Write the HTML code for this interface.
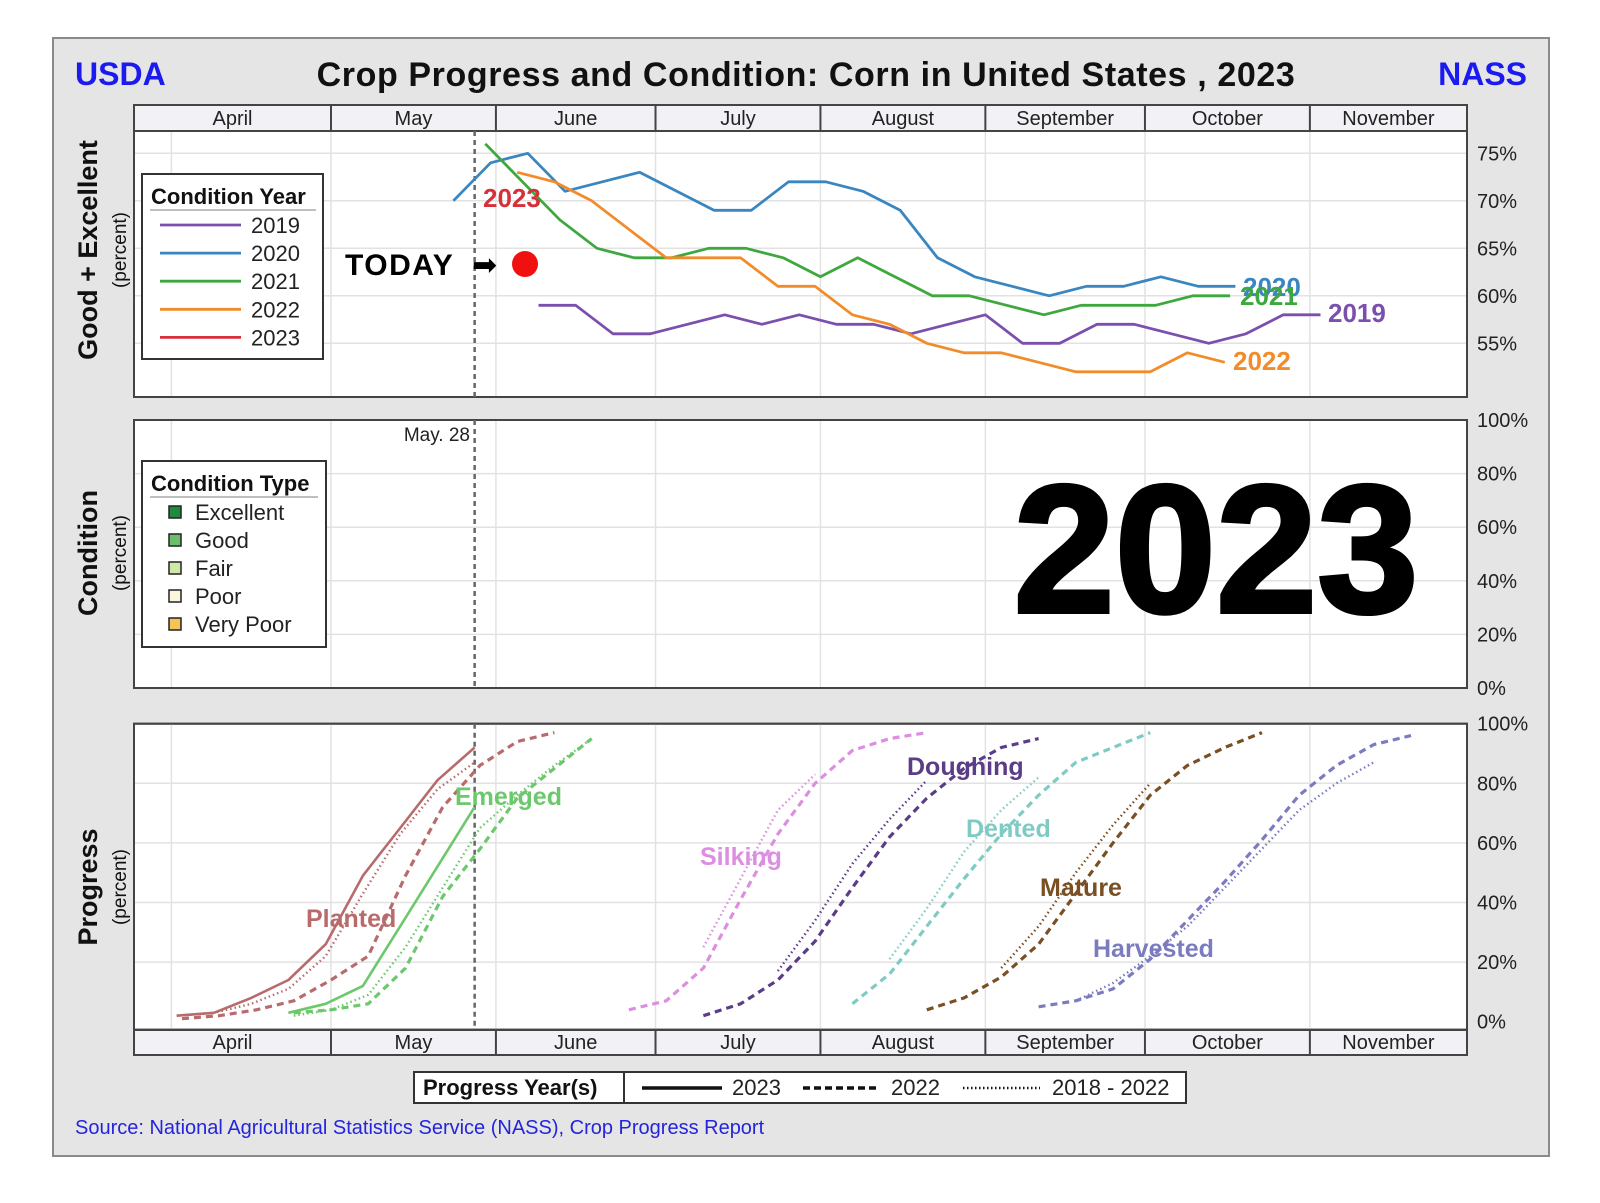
<!DOCTYPE html>
<html><head><meta charset="utf-8"><style>
html,body{margin:0;padding:0;background:#fff;}
svg{display:block;font-family:"Liberation Sans",sans-serif;}
</style></head><body>
<svg id="chart" width="1600" height="1203" viewBox="0 0 1600 1203">
<rect x="53" y="38" width="1496" height="1118" fill="#e5e5e5" stroke="#8a8a8a" stroke-width="2"/>
<text x="75" y="85" font-size="32" font-weight="bold" fill="#1b1bf0">USDA</text>
<text x="1527" y="85" font-size="32" font-weight="bold" fill="#1b1bf0" text-anchor="end">NASS</text>
<text x="806" y="86" font-size="34" font-weight="bold" fill="#111" text-anchor="middle" letter-spacing="0.6">Crop Progress and Condition: Corn in United States , 2023</text>
<g id="layer"></g>
</svg>
<script>
// ---------- data ----------
const condYears = ["2019","2020","2021","2022"];
const condStart = [39, 23, 29, 35];
const cond2019 = [59,59,56,56,57,58,57,58,57,57,56,57,58,55,55,57,57,56,55,56,58,58];
const cond2020 = [70,74,75,71,72,73,71,69,69,72,72,71,69,64,62,61,60,61,61,62,61,61];
const cond2021 = [76,72,68,65,64,64,65,65,64,62,64,62,60,60,59,58,59,59,59,60,60];
const cond2022 = [73,72,70,67,64,64,64,61,61,58,57,55,54,54,53,52,52,52,54,53];
const condTicks = [75,70,65,60,55];
const pctTicks = [100,80,60,40,20,0];
const months = ["April","May","June","July","August","September","October","November"];
const monthStartDay = [-30,0,31,61,92,123,153,184];
const planted2023 = [2,3,8,14,26,49,65,81,92];
const planted2022 = [1,2,4,7,14,22,49,72,86,94,97];
const plantedAvg  = [2,3,6,11,22,43,63,78,87];
const emerged2023 = [3,6,12,32,52,72];
const emerged2022 = [3,4,6,18,42,58,75,85,95];
const emergedAvg  = [2,4,9,25,45,65,76,86,95];
const silking2022 = [4,7,18,41,63,80,91,95,97];
const silkingAvg  = [25,48,71,83];
const dough2022   = [2,6,14,27,45,62,75,85,92,95];
const doughAvg    = [17,34,53,68,81];
const dent2022    = [6,16,32,48,63,76,87,92,97];
const dentAvg     = [21,38,57,71,82];
const mature2022  = [4,8,15,26,43,60,76,86,92,97];
const matureAvg   = [18,32,50,66,80];
const harv2022    = [5,7,11,21,34,47,61,76,86,93,96];
const harvAvg     = [7,13,22,32,45,58,71,80,87];

// ---------- scales ----------
const X0=134, X1=1467;
const xDay = d => 331 + d*5.32;
const yCond = v => 153.3 + (75 - v)*9.5;
const P2 = {top:420, bot:688};
const yCondType = v => P2.bot - v*(P2.bot-P2.top)/100;
const P3 = {top:723.7, bot:1021.7};
const yProg = v => P3.bot - v*(P3.bot-P3.top)/100;

const NS="http://www.w3.org/2000/svg";
const layer=document.getElementById('layer');
function mk(tag, attrs, parent){
  const e=document.createElementNS(NS,tag);
  for(const k in attrs) e.setAttribute(k, attrs[k]);
  (parent||layer).appendChild(e); return e;
}
function txt(x,y,s,attrs,parent){ const t=mk('text',Object.assign({x:x,y:y},attrs),parent); t.textContent=s; return t; }

function panel(top,bot,name){
  const r=mk('rect',{x:X0,y:top,width:X1-X0,height:bot-top,fill:'#fff',stroke:'#444','stroke-width':2});
  
  
  monthStartDay.forEach((d,i)=>{ if(i===0) return;
    const l=mk('line',{x1:xDay(d),x2:xDay(d),y1:top,y2:bot,stroke:'#e2e2e2','stroke-width':1.5});
    
    
  });
  const a=mk('line',{x1:xDay(-30),x2:xDay(-30),y1:top,y2:bot,stroke:'#e2e2e2','stroke-width':1.5});
  
  
}
function monthBar(top,bot,name){
  const g=mk('g',{});
  
  
  mk('rect',{x:X0,y:top,width:X1-X0,height:bot-top,fill:'#f1f1f6',stroke:'#444','stroke-width':2},g);
  months.forEach((m,i)=>{
    const a=i===0?X0:xDay(monthStartDay[i]);
    const b=i===months.length-1?X1:xDay(monthStartDay[i+1]);
    if(i>0) mk('line',{x1:a,x2:a,y1:top,y2:bot,stroke:'#444','stroke-width':2},g);
    const t=txt((a+b)/2,bot-6,m,{'font-size':20,'text-anchor':'middle',fill:'#222'},g);
    
    
  });
}
monthBar(105,131,'top-month-header');
panel(131,397,'good-excellent-panel');
panel(P2.top,P2.bot,'condition-panel');
panel(P3.top,P3.bot+8,'progress-panel');
monthBar(1030,1055,'bottom-month-header');

condTicks.forEach(v=>{
  const l=mk('line',{x1:X0,x2:X1,y1:yCond(v),y2:yCond(v),stroke:'#e2e2e2','stroke-width':1.5});
  
  
  const t=txt(1477,yCond(v)+7,v+'%',{'font-size':20,fill:'#222'});
  
  
});
pctTicks.forEach(v=>{
  if(v>0&&v<100){
    const l=mk('line',{x1:X0,x2:X1,y1:yCondType(v),y2:yCondType(v),stroke:'#e2e2e2','stroke-width':1.5});
    
    
    const l2=mk('line',{x1:X0,x2:X1,y1:yProg(v),y2:yProg(v),stroke:'#e2e2e2','stroke-width':1.5});
    
    
  }
  const t=txt(1477,yCondType(v)+7,v+'%',{'font-size':20,fill:'#222'});
  
  
  const t2=txt(1477,yProg(v)+7,v+'%',{'font-size':20,fill:'#222'});
  
  
});
[[131,397],[P2.top,P2.bot],[P3.top,P3.bot+8]].forEach(p=>{
  mk('rect',{x:X0,y:p[0],width:X1-X0,height:p[1]-p[0],fill:'none',stroke:'#444','stroke-width':2});
});
[[131,397],[P2.top,P2.bot],[P3.top,P3.bot+8]].forEach(p=>{
  const l=mk('line',{x1:xDay(27),x2:xDay(27),y1:p[0],y2:p[1],stroke:'#666','stroke-width':2.5,'stroke-dasharray':'5 4'});
  
  
});

const condColors=['#7b4fae','#3a86c0','#3ea83e','#f28c2a'];
const condData=[cond2019,cond2020,cond2021,cond2022];
condData.forEach((vals,i)=>{
  const pts=vals.map((v,k)=>xDay(condStart[i]+7*k).toFixed(1)+','+yCond(v).toFixed(1)).join(' ');
  const pl=mk('polyline',{points:pts,fill:'none',stroke:condColors[i],'stroke-width':2.8,'stroke-linejoin':'round'});
  
  
});
function lab(x,y,s,c,size,name){ const t=txt(x,y,s,{'font-size':size,'font-weight':'bold',fill:c});   return t;}
lab(1243,296,'2020','#3a86c0',26,'label-2020');
lab(1240,305,'2021','#3ea83e',26,'label-2021');
lab(1328,322,'2019','#7b4fae',26,'label-2019');
lab(1233,370,'2022','#f28c2a',26,'label-2022');
lab(483,207,'2023','#d6303a',26,'label-2023');
const tl=lab(345,275,'TODAY','#000',30,'today-label');
tl.setAttribute('letter-spacing','1.5');
const arr=txt(472,275,'➡',{'font-size':30,fill:'#000'});


const dot=mk('circle',{cx:525,cy:264,r:13,fill:'#f01010'});



const lg=mk('g',{});


mk('rect',{x:142,y:174,width:181,height:185,fill:'#fff',stroke:'#333','stroke-width':2},lg);
txt(151,204,'Condition Year',{'font-size':22,'font-weight':'bold',fill:'#111'},lg);
mk('line',{x1:150,x2:316,y1:210,y2:210,stroke:'#aaa','stroke-width':1.5},lg);
const legYears=['2019','2020','2021','2022','2023'];
const legCols=['#7b4fae','#3a86c0','#3ea83e','#f28c2a','#d6303a'];
legYears.forEach((y,i)=>{
  const yy=225+i*28.1;
  const l=mk('line',{x1:160,x2:241,y1:yy,y2:yy,stroke:legCols[i],'stroke-width':2.8},lg);
  
  
  const t=txt(251,yy+8,y,{'font-size':22,fill:'#222'},lg);
  
  
});

const md=txt(470,441,'May. 28',{'font-size':19,fill:'#222','text-anchor':'end'});


const ct=mk('g',{});


mk('rect',{x:142,y:461,width:184,height:186,fill:'#fff',stroke:'#333','stroke-width':2},ct);
txt(151,491,'Condition Type',{'font-size':22,'font-weight':'bold',fill:'#111'},ct);
mk('line',{x1:150,x2:318,y1:497,y2:497,stroke:'#aaa','stroke-width':1.5},ct);
const types=['Excellent','Good','Fair','Poor','Very Poor'];
const typeCols=['#1f8a3c','#6cbf6a','#cfe8a8','#fbf7df','#f6c35a'];
types.forEach((s,i)=>{
  const yy=512+i*28;
  const r=mk('rect',{x:169,y:yy-6,width:12,height:12,fill:typeCols[i],stroke:'#222','stroke-width':1.5},ct);
  
  
  const t=txt(195,yy+8,s,{'font-size':22,fill:'#222'},ct);
  
  
});
const big=txt(1216,612,'2023',{'font-size':182,'font-weight':'900',fill:'#000','text-anchor':'middle','stroke':'#000','stroke-width':4});



function curve(start,vals,color,style,name){
  const pts=vals.map((v,k)=>xDay(start+7*k).toFixed(1)+','+yProg(v).toFixed(1)).join(' ');
  const a={points:pts,fill:'none',stroke:color,'stroke-linejoin':'round'};
  if(style==='solid'){a['stroke-width']=2.6;}
  else if(style==='dash'){a['stroke-width']=3.2;a['stroke-dasharray']='7 5';}
  else {a['stroke-width']=2.4;a['stroke-dasharray']='1.5 3';}
  const pl=mk('polyline',a);
  
  
}
const cPl='#b86b6d', cEm='#6cc86c', cSi='#dc8ee0', cDo='#5b3c86', cDe='#7fcbc4', cMa='#7a4f24', cHa='#7b7bbf';
curve(-29,plantedAvg,cPl,'dot','planted-avg');
curve(-28,planted2022,cPl,'dash','planted-2022');
curve(-29,planted2023,cPl,'solid','planted-2023');
curve(-7,emergedAvg,cEm,'dot','emerged-avg');
curve(-7,emerged2022,cEm,'dash','emerged-2022');
curve(-8,emerged2023,cEm,'solid','emerged-2023');
curve(70,silkingAvg,cSi,'dot','silking-avg');
curve(56,silking2022,cSi,'dash','silking-2022');
curve(84,doughAvg,cDo,'dot','doughing-avg');
curve(70,dough2022,cDo,'dash','doughing-2022');
curve(105,dentAvg,cDe,'dot','dented-avg');
curve(98,dent2022,cDe,'dash','dented-2022');
curve(126,matureAvg,cMa,'dot','mature-avg');
curve(112,mature2022,cMa,'dash','mature-2022');
curve(140,harvAvg,cHa,'dot','harvested-avg');
curve(133,harv2022,cHa,'dash','harvested-2022');
lab(306,927,'Planted',cPl,25,'planted-label');
lab(455,805,'Emerged',cEm,25,'emerged-label');
lab(700,865,'Silking',cSi,25,'silking-label');
lab(907,775,'Doughing',cDo,25,'doughing-label');
lab(966,837,'Dented',cDe,25,'dented-label');
lab(1040,896,'Mature',cMa,25,'mature-label');
lab(1093,957,'Harvested',cHa,25,'harvested-label');

function vtitle(x,y,s,size,bold,name){
  const t=txt(x,y,s,{'font-size':size,'font-weight':bold?'bold':'normal',fill:'#111','text-anchor':'middle',transform:'rotate(-90 '+x+' '+y+')'});
  
  
}
vtitle(97,250,'Good + Excellent',27,true,'good-excellent-axis-title');
vtitle(126,250,'(percent)',19,false,'good-excellent-axis-unit');
vtitle(97,553,'Condition',27,true,'condition-axis-title');
vtitle(126,553,'(percent)',19,false,'condition-axis-unit');
vtitle(97,887,'Progress',27,true,'progress-axis-title');
vtitle(126,887,'(percent)',19,false,'progress-axis-unit');

const bl=mk('g',{});


mk('rect',{x:414,y:1072,width:772,height:31,fill:'#fff',stroke:'#333','stroke-width':2},bl);
mk('line',{x1:624,x2:624,y1:1072,y2:1103,stroke:'#333','stroke-width':2},bl);
txt(423,1095,'Progress Year(s)',{'font-size':22,'font-weight':'bold',fill:'#111'},bl);
mk('line',{x1:642,x2:722,y1:1088,y2:1088,stroke:'#111','stroke-width':3.5},bl);
txt(732,1095,'2023',{'font-size':22,fill:'#222'},bl);
mk('line',{x1:803,x2:879,y1:1088,y2:1088,stroke:'#111','stroke-width':3.5,'stroke-dasharray':'7 4'},bl);
txt(891,1095,'2022',{'font-size':22,fill:'#222'},bl);
mk('line',{x1:963,x2:1040,y1:1088,y2:1088,stroke:'#111','stroke-width':2.5,'stroke-dasharray':'1.5 2.5'},bl);
txt(1052,1095,'2018 - 2022',{'font-size':22,fill:'#222'},bl);

const src=txt(75,1134,'Source: National Agricultural Statistics Service (NASS), Crop Progress Report',{'font-size':20,fill:'#2424dd'});


</script>
</body></html>
